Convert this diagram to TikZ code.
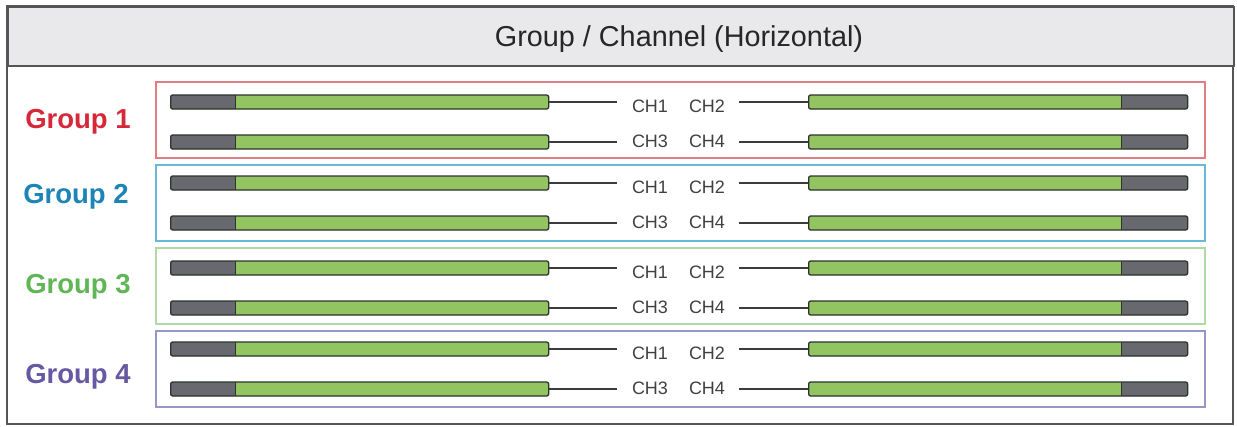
\documentclass[tikz,border=0pt]{standalone}
\usepackage{fontspec}
\setmainfont{Liberation Sans}
\definecolor{grpRed}{RGB}{214,40,57}
\definecolor{grpRedBox}{RGB}{226,125,130}
\definecolor{grpBlue}{RGB}{28,132,182}
\definecolor{grpBlueBox}{RGB}{105,185,215}
\definecolor{grpGreen}{RGB}{96,182,86}
\definecolor{grpGreenBox}{RGB}{175,218,165}
\definecolor{grpPurple}{RGB}{102,88,162}
\definecolor{grpPurpleBox}{RGB}{150,150,200}
\definecolor{barGreen}{RGB}{146,197,98}
\definecolor{barGray}{RGB}{104,105,110}
\definecolor{barEdge}{RGB}{45,50,45}
\definecolor{wireGray}{RGB}{60,60,60}
\definecolor{headFill}{RGB}{233,233,236}
\definecolor{frameGray}{RGB}{85,85,85}

\begin{document}
\begin{tikzpicture}
[
x=1pt,y=-1pt,
frame/.style={draw=frameGray,line width=1.8pt},
header/.style={frame,fill=headFill,anchor=north west,minimum width=1226pt,minimum height=59pt,inner sep=0pt},
title/.style={font=\fontsize{28.8pt}{34pt}\selectfont,text=black!85,anchor=base},
grpbox/.style={draw=#1,line width=1.6pt,anchor=north west,minimum width=1049pt,minimum height=76pt,inner sep=0pt},
grplabel/.style={font=\bfseries\fontsize{27.5pt}{32pt}\selectfont,text=#1,anchor=base},
bar/.style={draw=barEdge,line width=1.3pt,fill=barGreen,rounded corners=2pt,minimum height=14pt,inner sep=0pt,anchor=west},
left bar/.style={bar,minimum width=378pt,
            path picture={
                        \fill[barGray] (path picture bounding box.north west) rectangle ++(65pt,-14pt);
                        \draw[barEdge,line width=1.3pt] ([xshift=65pt]path picture bounding box.north west) -- ++(0,-14pt);
            }},
right bar/.style={bar,minimum width=379pt,
            path picture={
                        \fill[barGray] (path picture bounding box.north east) rectangle ++(-66pt,-14pt);
                        \draw[barEdge,line width=1.3pt] ([xshift=-66pt]path picture bounding box.north east) -- ++(0,-14pt);
            }},
chan/.style={font=\fontsize{18pt}{20pt}\selectfont,text=black!75,inner sep=0pt},
wire/.style={draw=wireGray,line width=1.5pt},
]
\useasboundingbox (0,0) rectangle (1237,426);

%Frame and header
\draw[frame] (7,6) rectangle (1233,424);
\node[header] (hdr) at (7,6) {};
\node[title] (ttl) at (679,46) {Group / Channel (Horizontal)};

%Place the groups
\node[grpbox=grpRedBox] (grp1) at (155,81) {};
\node[grpbox=grpBlueBox] (grp2) at (155,164) {};
\node[grpbox=grpGreenBox] (grp3) at (155,247) {};
\node[grpbox=grpPurpleBox] (grp4) at (155,330) {};
\node[grplabel=grpRed] (lab1) at (78,128) {Group 1};
\node[grplabel=grpBlue] (lab2) at (76,203) {Group 2};
\node[grplabel=grpGreen] (lab3) at (78,293) {Group 3};
\node[grplabel=grpPurple] (lab4) at (78,383) {Group 4};

%Place the channel bars and draw the connections
\foreach \y/\a/\b/\dy in {102/1/2/4,142/3/4/-1,183/1/2/4,223/3/4/-1,268/1/2/4,308/3/4/-1,349/1/2/4,389/3/4/-1}{
  \node[left bar] (lbar\y) at (170,\y) {};
  \node[right bar] (rbar\y) at (808,\y) {};
  \node[chan] (cha\y) at (650,\y+\dy) {CH\a};
  \node[chan] (chb\y) at (707,\y+\dy) {CH\b};
  \draw[wire,shorten >=15pt] (lbar\y.east) -- (lbar\y.east -| cha\y.west);
  \draw[wire,shorten <=14pt] (rbar\y.west -| chb\y.east) -- (rbar\y.west);
}
\end{tikzpicture}
\end{document}
